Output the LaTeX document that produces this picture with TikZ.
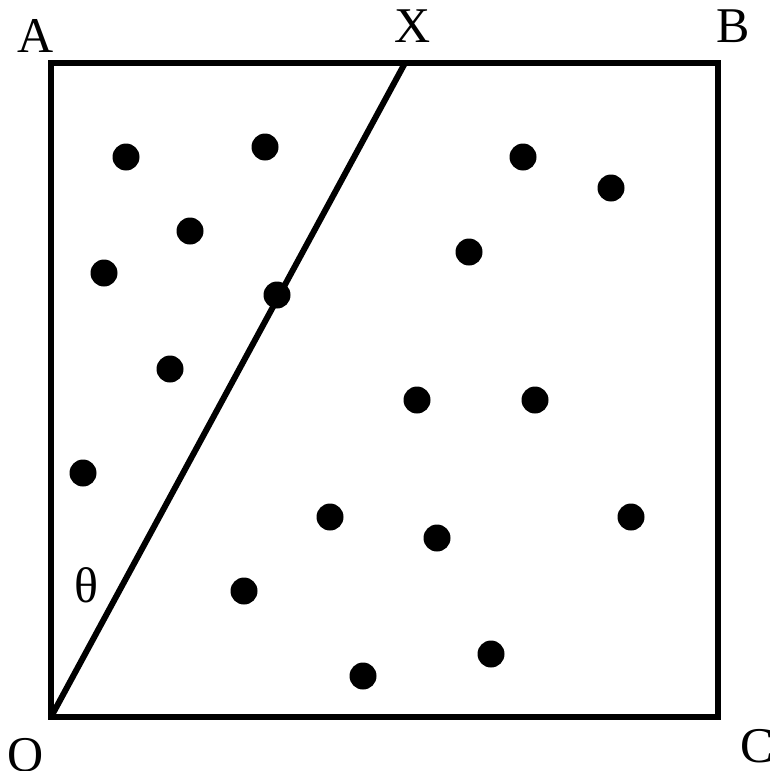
\documentclass[tikz,border=0pt]{standalone}
\usepackage{fontspec}
\setmainfont{Liberation Serif}
\begin{document}
\begin{tikzpicture}[x=1pt,y=-1pt,
  edge/.style={line width=6pt,line join=miter},
  dot/.style={circle,fill=black,inner sep=0pt,minimum size=27pt},
  lab/.style={anchor=base,inner sep=0pt,font=\fontsize{50}{50}\selectfont}]
\useasboundingbox (0,0) rectangle (769,771);
\coordinate (A) at (51,63);
\coordinate (B) at (718,63);
\coordinate (C) at (718,717);
\coordinate (O) at (51,717);
\coordinate (X) at (405,63);
\draw[edge] (A) -- (B) -- (C) -- (O) -- cycle;
\draw[edge] (O) -- (X);
\node[lab] (lA) at (36,52) {A};
\node[lab] (lX) at (413,42) {X};
\node[lab] (lB) at (733,42) {B};
\node[lab] (lO) at (26,771) {O};
\node[lab] (lC) at (757,762) {C};
\node[lab] (lt) at (86,602) {θ};
\foreach \n/\x/\y in {d1/126/157, d2/265/147, d3/190/231, d4/104/273, d5/277/295, d6/170/369, d7/83/473, d8/523/157, d9/611/188, d10/469/252, d11/417/400, d12/535/400, d13/330/517, d14/437/538, d15/631/517, d16/244/591, d17/491/654, d18/363/676}
  \node[dot] (\n) at (\x,\y) {};
\end{tikzpicture}
\end{document}
